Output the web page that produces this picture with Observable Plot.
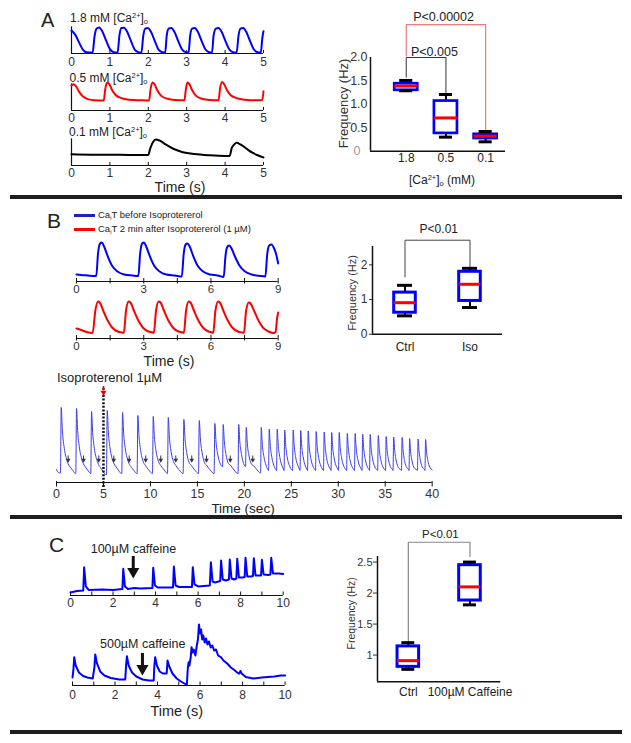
<!DOCTYPE html>
<html><head><meta charset="utf-8">
<script src="https://cdn.jsdelivr.net/npm/d3@7"></script>
<script src="https://cdn.jsdelivr.net/npm/@observablehq/plot@0.6"></script>
<style>
body{margin:0;background:#fff;}
#fig{position:relative;width:631px;height:743px;overflow:hidden;background:#fff;font-family:"Liberation Sans",Arial,sans-serif;color:#222;}
.lbl{position:absolute;white-space:nowrap;line-height:1;}
.lbl sup{font-size:0.62em;vertical-align:0.6em;line-height:0;}
.lbl sub{font-size:0.62em;vertical-align:-0.3em;line-height:0;}
.bar{position:absolute;background:#1e1e1e;}
.sw{position:absolute;height:3px;}
</style></head><body><div id="fig"></div><script>
// ---------------- DATA ----------------
// Panel A traces [time s, relative fluorescence]
const traceA18 = [[0,0.74],[0.1,0.6],[0.2,0.35],[0.3,0.12],[0.4,0.04],[0.55,0.03],
[0.6,0.55],[0.65,0.8],[0.72,0.84],[0.8,0.72],[0.9,0.42],[1.0,0.14],[1.1,0.04],[1.2,0.03],
[1.25,0.6],[1.3,0.82],[1.37,0.83],[1.45,0.7],[1.55,0.4],[1.65,0.12],[1.75,0.04],[1.82,0.02],
[1.87,0.58],[1.92,0.8],[1.99,0.82],[2.07,0.7],[2.17,0.4],[2.27,0.12],[2.37,0.04],[2.44,0.03],
[2.48,0.58],[2.53,0.8],[2.6,0.82],[2.68,0.7],[2.78,0.4],[2.88,0.13],[2.98,0.04],[3.05,0.03],
[3.09,0.58],[3.14,0.8],[3.21,0.82],[3.29,0.7],[3.39,0.4],[3.49,0.13],[3.59,0.04],[3.66,0.03],
[3.7,0.58],[3.76,0.8],[3.83,0.82],[3.91,0.7],[4.01,0.4],[4.11,0.13],[4.21,0.04],[4.3,0.03],
[4.35,0.58],[4.4,0.8],[4.47,0.82],[4.55,0.7],[4.65,0.4],[4.75,0.13],[4.85,0.04],[4.93,0.03],
[4.97,0.5],[5.0,0.72]];
const traceA05 = [[0,0.8],[0.05,0.85],[0.12,0.78],[0.2,0.6],[0.3,0.45],[0.45,0.36],[0.6,0.33],[0.84,0.32],
[0.88,0.7],[0.93,0.9],[0.98,0.86],[1.05,0.68],[1.15,0.5],[1.3,0.4],[1.5,0.35],[1.8,0.33],[2.02,0.32],
[2.06,0.7],[2.11,0.9],[2.16,0.85],[2.23,0.66],[2.33,0.48],[2.5,0.38],[2.7,0.34],[2.94,0.33],
[2.98,0.7],[3.02,0.9],[3.07,0.85],[3.14,0.66],[3.24,0.48],[3.4,0.38],[3.6,0.34],[3.83,0.33],
[3.87,0.72],[3.92,0.92],[3.97,0.86],[4.04,0.68],[4.14,0.5],[4.3,0.4],[4.5,0.35],[4.8,0.33],[4.97,0.34],[5.0,0.62]];
const traceA01 = [[0,0.36],[0.5,0.35],[1.0,0.35],[1.5,0.34],[2.0,0.34],[2.05,0.55],[2.12,0.75],[2.2,0.84],[2.3,0.8],[2.45,0.68],[2.65,0.54],[2.9,0.43],[3.2,0.37],[3.6,0.33],[4.0,0.31],[4.12,0.31],
[4.17,0.55],[4.24,0.68],[4.3,0.73],[4.4,0.68],[4.55,0.55],[4.7,0.42],[4.85,0.33],[5.0,0.26]];
const ticksA = [0,1,2,3,4,5];

// Panel A box plot (Frequency, Hz)
const boxA_cats = ["1.8","0.5","0.1"];
const boxA_min = [1.29,0.30,0.20];
const boxA_q1  = [1.30,0.38,0.27];
const boxA_med = [1.39,0.71,0.32];
const boxA_q3  = [1.44,1.07,0.36];
const boxA_max = [1.51,1.21,0.42];
const boxA_yticks = [0.5,1.0,1.5,2.0];

// Panel B traces
const traceBbefore = [[0,0.7],[0.2,0.65],[0.5,0.6],[0.8,0.55],
[0.88,0.55],[0.96,2.8],[1.05,3.8],[1.13,3.9],[1.23,3.5],[1.38,2.6],[1.58,1.6],[1.83,1.0],[2.13,0.7],[2.5,0.6],[2.76,0.55],
[2.84,2.8],[2.93,3.8],[3.01,3.9],[3.11,3.5],[3.26,2.6],[3.46,1.6],[3.71,1.0],[4.01,0.7],[4.4,0.6],[4.7,0.5],
[4.78,2.7],[4.87,3.7],[4.95,3.8],[5.05,3.5],[5.2,2.6],[5.4,1.6],[5.65,1.0],[5.95,0.7],[6.3,0.6],[6.57,0.45],
[6.65,2.6],[6.74,3.5],[6.82,3.6],[6.92,3.3],[7.07,2.5],[7.27,1.6],[7.52,1.0],[7.82,0.7],[8.2,0.55],[8.43,0.5],
[8.51,2.7],[8.6,3.6],[8.7,3.7],[8.8,3.4],[8.9,2.8],[9.0,1.8]];
const traceBafter = [[0,1.0],[0.2,0.85],[0.45,0.65],[0.72,0.55],
[0.84,2.8],[0.96,3.7],[1.04,3.6],[1.19,2.8],[1.39,1.8],[1.59,1.1],[1.84,0.7],[2.04,0.6],[2.11,0.55],
[2.21,2.8],[2.33,3.7],[2.41,3.6],[2.56,2.8],[2.76,1.8],[2.96,1.1],[3.21,0.7],[3.4,0.6],[3.45,0.55],
[3.55,2.8],[3.67,3.7],[3.75,3.6],[3.9,2.8],[4.1,1.8],[4.3,1.1],[4.55,0.7],[4.74,0.6],[4.79,0.55],
[4.89,2.8],[5.01,3.7],[5.09,3.6],[5.24,2.8],[5.44,1.8],[5.64,1.1],[5.89,0.7],[6.05,0.6],[6.1,0.55],
[6.2,2.8],[6.32,3.7],[6.4,3.6],[6.55,2.8],[6.75,1.8],[6.95,1.1],[7.2,0.7],[7.4,0.6],[7.47,0.55],
[7.57,2.8],[7.69,3.6],[7.77,3.5],[7.92,2.8],[8.12,1.8],[8.32,1.1],[8.57,0.7],[8.8,0.55],[8.88,0.6],
[8.95,2.0],[9.0,2.6]];
const ticksB = [0,1.5,3,4.5,6,7.5,9];
const ticksBlab = [0,3,6,9];

// Panel B box plot
const boxB_cats = ["Ctrl","Iso"];
const boxB_min = [0.53,0.77];
const boxB_q1  = [0.62,0.96];
const boxB_med = [0.91,1.44];
const boxB_q3  = [1.20,1.80];
const boxB_max = [1.41,1.90];
const boxB_yticks = [0,1,2];

// Panel B long recording (Isoproterenol at 5 s)
const traceLong = [[0,1.3],[0.2,1.0],[0.35,0.95],
[0.42,0.95],[0.5,7.5],[0.62,5.25],[0.8,3.6],[1.05,2.4],[1.3,1.75],[1.45,1.55],[1.75,1.2],[2.0,0.9],
[2.05,0.9],[2.13,7.4],[2.25,5.2],[2.43,3.55],[2.68,2.35],[2.93,1.75],[3.08,1.55],[3.38,1.15],[3.63,0.9],
[3.65,0.88],[3.73,7.1],[3.85,5.0],[4.03,3.4],[4.28,2.3],[4.53,1.7],[4.68,1.5],[4.98,1.05],[5.25,0.8],
[5.32,0.8],[5.4,7.2],[5.52,5.05],[5.7,3.45],[5.95,2.3],[6.2,1.75],[6.35,1.55],[6.65,1.15],[6.9,0.9],
[6.95,0.9],[7.03,7.0],[7.15,4.9],[7.33,3.35],[7.58,2.25],[7.83,1.7],[7.98,1.5],[8.28,1.15],[8.53,0.9],
[8.58,0.9],[8.66,6.7],[8.78,4.7],[8.96,3.2],[9.21,2.15],[9.46,1.7],[9.61,1.5],[9.91,1.15],[10.18,0.9],
[10.22,0.9],[10.3,6.6],[10.42,4.6],[10.6,3.15],[10.85,2.1],[11.1,1.7],[11.25,1.5],[11.55,1.15],[11.8,0.9],
[11.82,0.9],[11.9,6.5],[12.02,4.55],[12.2,3.1],[12.45,2.1],[12.7,1.7],[12.85,1.5],[13.15,1.15],[13.45,0.9],
[13.48,0.9],[13.56,6.3],[13.68,4.4],[13.86,3.0],[14.11,2.0],[14.36,1.7],[14.51,1.5],[14.81,1.15],[15.1,0.9],
[15.12,0.9],[15.2,6.2],[15.32,4.35],[15.5,3.0],[15.75,2.0],[16.0,1.7],[16.15,1.5],[16.45,1.15],[16.75,0.9],
[16.78,0.9],[16.86,5.9],[16.98,4.1],[17.16,2.85],[17.4,1.95],[17.62,1.6],
[17.68,1.55],[17.75,5.8],[17.87,4.05],[18.05,2.8],[18.3,1.9],[18.55,1.7],[18.7,1.5],[19.0,1.15],[19.25,0.9],
[19.33,0.9],[19.4,5.8],[19.52,4.05],[19.7,2.8],[19.92,1.9],[20.1,1.6],
[20.13,1.55],[20.2,5.5],[20.32,3.85],[20.5,2.65],[20.75,1.85],[21.0,1.65],[21.15,1.5],[21.45,1.15],[21.7,0.95],
[21.73,0.95],[21.8,5.5],[21.9,3.95],[22.08,2.6],[22.3,1.75],[22.5,1.3],
[22.58,1.2],[22.65,5.35],[22.75,3.85],[22.93,2.5],[23.15,1.7],[23.35,1.3],
[23.43,1.2],[23.5,5.35],[23.6,3.85],[23.78,2.5],[24.0,1.7],[24.18,1.3],
[24.23,1.2],[24.3,5.25],[24.4,3.8],[24.58,2.45],[24.8,1.7],[25.05,1.25],
[25.13,1.2],[25.2,5.25],[25.3,3.8],[25.48,2.45],[25.7,1.7],[25.88,1.3],
[25.93,1.2],[26.0,5.2],[26.1,3.75],[26.28,2.45],[26.5,1.65],[26.68,1.3],
[26.73,1.2],[26.8,5.15],[26.9,3.7],[27.08,2.4],[27.3,1.65],[27.53,1.25],
[27.58,1.2],[27.65,5.1],[27.75,3.7],[27.93,2.4],[28.15,1.65],[28.38,1.25],
[28.43,1.2],[28.5,5.05],[28.6,3.65],[28.78,2.35],[29.0,1.6],[29.18,1.3],
[29.23,1.2],[29.3,5.0],[29.4,3.6],[29.58,2.35],[29.8,1.6],[29.98,1.3],
[30.03,1.2],[30.1,5.0],[30.2,3.6],[30.38,2.35],[30.6,1.6],[30.84,1.25],
[30.89,1.2],[30.96,4.9],[31.06,3.55],[31.24,2.3],[31.46,1.6],[31.68,1.25],
[31.73,1.2],[31.8,4.9],[31.9,3.55],[32.08,2.3],[32.3,1.6],[32.48,1.3],
[32.53,1.2],[32.6,4.85],[32.7,3.5],[32.88,2.3],[33.1,1.55],[33.28,1.3],
[33.33,1.2],[33.4,4.8],[33.5,3.45],[33.68,2.25],[33.9,1.55],[34.14,1.25],
[34.19,1.2],[34.26,4.7],[34.36,3.4],[34.54,2.2],[34.76,1.55],[34.98,1.25],
[35.03,1.2],[35.1,4.6],[35.2,3.3],[35.38,2.15],[35.6,1.5],[35.78,1.3],
[35.83,1.2],[35.9,4.55],[36.0,3.3],[36.18,2.15],[36.4,1.5],[36.68,1.25],
[36.73,1.2],[36.8,4.5],[36.9,3.25],[37.08,2.1],[37.3,1.5],[37.48,1.3],
[37.53,1.2],[37.6,4.4],[37.7,3.15],[37.88,2.05],[38.1,1.45],[38.38,1.25],
[38.43,1.2],[38.5,4.35],[38.6,3.15],[38.78,2.05],[39.0,1.45],[39.18,1.3],
[39.23,1.2],[39.3,4.3],[39.4,3.1],[39.58,2.0],[39.8,1.45],[40.0,1.25]];
const longArrowT = [1.24,2.88,4.5,6.1,7.74,9.5,11.1,12.7,14.4,15.97,18.5,20.9];
const isoTime = [5];
const ticksLong = [0,5,10,15,20,25,30,35,40];

// Panel C traces
const traceC100 = [[0,0.3],[0.3,0.45],[0.6,0.5],[0.64,2.83],[0.72,0.9],[0.85,0.55],[1.5,0.6],[2.0,0.55],[2.44,0.65],[2.48,2.67],[2.56,0.9],[2.7,0.65],[3.0,0.75],[3.3,0.7],[3.85,0.75],[3.89,2.77],[3.97,1.0],[4.1,0.8],[4.82,0.8],[4.86,2.9],[4.94,1.0],[5.1,0.85],[5.71,0.85],[5.75,2.83],[5.83,1.1],[6.0,0.9],[6.55,1.0],[6.6,3.33],[6.68,1.4],[6.8,1.3],[7.04,1.45],[7.08,3.5],[7.16,1.6],[7.3,1.5],[7.45,1.6],[7.49,3.6],[7.57,1.7],[7.7,1.6],[7.8,1.7],[7.84,3.67],[7.92,1.8],[8.1,1.8],[8.19,1.85],[8.23,3.77],[8.31,1.9],[8.5,1.9],[8.58,1.95],[8.62,3.73],[8.7,2.0],[8.9,2.0],[8.96,2.0],[9.0,3.57],[9.08,2.1],[9.3,2.05],[9.4,2.1],[9.44,3.77],[9.52,2.2],[9.8,2.2],[10,2.15]];
const traceC500 = [[0,0.8],[0.04,1.5],[0.08,2.83],[0.15,2.0],[0.3,1.3],[0.5,0.95],[0.7,0.8],[0.95,0.7],[1.03,1.8],[1.07,3.1],[1.15,2.2],[1.3,1.4],[1.5,1.0],[1.8,0.75],[2.2,0.6],[2.48,0.6],[2.52,2.0],[2.56,2.93],[2.64,2.0],[2.8,1.3],[3.0,0.9],[3.3,0.6],[3.6,0.5],[3.82,0.5],[3.85,2.0],[3.89,2.83],[3.97,2.0],[4.1,1.4],[4.25,1.2],[4.43,1.2],[4.47,2.5],[4.55,1.9],[4.7,1.2],[4.9,0.7],[5.1,0.4],[5.3,0.15],[5.38,0.1],[5.42,1.6],[5.46,2.33],[5.5,2.0],[5.56,2.8],[5.6,3.83],[5.65,3.3],[5.7,3.6],[5.78,3.0],[5.84,3.9],[5.9,4.6],[5.95,6.1],[6.0,5.2],[6.05,5.6],[6.1,4.6],[6.15,5.0],[6.22,4.3],[6.28,4.7],[6.35,4.1],[6.42,4.4],[6.5,3.8],[6.58,4.0],[6.66,3.5],[6.75,3.6],[6.85,3.0],[6.98,2.83],[7.1,2.5],[7.29,2.17],[7.45,1.8],[7.6,1.57],[7.75,1.3],[7.84,1.17],[7.9,1.45],[7.96,1.2],[8.15,0.85],[8.5,0.7],[8.9,0.8],[9.2,0.85],[9.5,0.9],[9.8,1.0],[10,1.0]];
const ticksC = [0,1,2,3,4,5,6,7,8,9,10];
const ticksClab = [0,2,4,6,8,10];
const caffArrow100 = [2.95];
const caffArrow500 = [3.29];

// Panel C box plot
const boxC_cats = ["Ctrl","100µM Caffeine"];
const boxC_min = [0.77,1.81];
const boxC_q1  = [0.81,1.88];
const boxC_med = [0.91,2.10];
const boxC_q3  = [1.14,2.45];
const boxC_max = [1.20,2.50];
const boxC_yticks = [1,1.5,2,2.5];

// ---------------- DRAWING ----------------
const fig = document.getElementById("fig");
const FONT = '"Liberation Sans", Arial, sans-serif';
const BLUE = "#0000ff", RED = "#ff0000";

function place(svg, left, top) {
  svg.style.position = "absolute";
  svg.style.left = left + "px";
  svg.style.top = top + "px";
  svg.style.overflow = "visible";
  fig.appendChild(svg);
}
function label(html, o) {
  const d = document.createElement("div");
  d.className = "lbl";
  d.innerHTML = html;
  d.style.fontSize = o.fs + "px";
  d.style.top = (o.cy - 0.49 * o.fs) + "px";
  if (o.cx !== undefined) { d.style.left = o.cx + "px"; d.style.transform = "translateX(-50%)"; }
  else d.style.left = o.left + "px";
  if (o.color) d.style.color = o.color;
  fig.appendChild(d);
}
function bar(top, left, width, h) {
  const d = document.createElement("div");
  d.className = "bar";
  Object.assign(d.style, {top: top + "px", left: left + "px", width: width + "px", height: h + "px"});
  fig.appendChild(d);
}
function swatch(left, cy, w, color) {
  const d = document.createElement("div");
  d.className = "sw";
  Object.assign(d.style, {left: left + "px", top: (cy - 1.5) + "px", width: w + "px", background: color});
  fig.appendChild(d);
}

function tracePlot(o) {
  const mL = 10, mR = 14;
  const fw = o.x1px - o.x0px;
  const fh = o.yMax * o.unitPx;
  const marks = [
    Plot.ruleY([0], {stroke: "#111", strokeWidth: 1.2}),
    Plot.ruleX(o.ticks, {x: d => d, y1: o.tick[0], y2: o.tick[1], stroke: "#111", strokeWidth: 1}),
    Plot.axisX(o.labTicks, {tickSize: 0, tickPadding: o.pad, fontSize: o.fs, fill: "#333", label: null}),
  ];
  if (o.leftLine) marks.push(Plot.ruleX([o.xDomain[0]], {y1: 0, y2: o.leftLine, stroke: "#111", strokeWidth: 1.2}));
  marks.push(Plot.line(o.data, {stroke: o.stroke, strokeWidth: o.sw, curve: o.curve || "monotone-x", strokeLinejoin: "round"}));
  if (o.extra) marks.push(...o.extra);
  const svg = Plot.plot({
    width: mL + fw + mR, height: o.mt + fh + o.mb,
    marginLeft: mL, marginRight: mR, marginTop: o.mt, marginBottom: o.mb,
    x: {domain: o.xDomain, axis: null},
    y: {domain: [0, o.yMax], axis: null},
    style: {background: "transparent", fontFamily: FONT, overflow: "visible", color: "#333"},
    marks
  });
  place(svg, o.x0px - mL, o.axisY - fh - o.mt);
}

function boxPlot(o) {
  const mL = 52, mR = 10;
  const n = o.cats.length;
  const idx = d3.range(n);
  const fw = o.x1px - o.x0px;
  const fh = (o.yDomain[1] - o.yDomain[0]) * o.unitPx;
  const marks = [
    Plot.ruleY([o.yDomain[0]], {stroke: "#111", strokeWidth: 1.5}),
    Plot.ruleX([o.xDomain[0]], {y1: o.yDomain[0], y2: o.yTop, stroke: "#111", strokeWidth: 1.5}),
    Plot.axisY(o.yTicks, {tickSize: o.ytickSize, tickPadding: o.ypad, fontSize: o.yfs, tickFormat: o.yFmt, fill: "#333", label: null}),
    Plot.axisX(idx.map(i => i + 1), {tickSize: 0, tickPadding: o.xpad, fontSize: o.xfs, tickFormat: d => o.cats[d - 1], fill: "#222", label: null}),
    ...(o.extraAxis || []),
    ...o.brackets.map(b => Plot.line(b.pts, {stroke: b.color, strokeWidth: b.sw})),
    Plot.ruleX(idx, {x: i => i + 1, y1: i => o.mins[i], y2: i => o.maxs[i], stroke: "#000", strokeWidth: 2}),
    Plot.rect(idx, {x1: i => i + 1 - o.hw, x2: i => i + 1 + o.hw, y1: i => o.q1s[i], y2: i => o.q3s[i], fill: "white", stroke: BLUE, strokeWidth: o.bsw}),
    Plot.ruleY(idx, {x1: i => i + 1 - o.hw, x2: i => i + 1 + o.hw, y: i => o.meds[i], stroke: RED, strokeWidth: 3}),
    Plot.ruleY(idx, {x1: i => i + 1 - o.cw, x2: i => i + 1 + o.cw, y: i => o.maxs[i], stroke: "#000", strokeWidth: 3}),
    Plot.ruleY(idx, {x1: i => i + 1 - o.cw, x2: i => i + 1 + o.cw, y: i => o.mins[i], stroke: "#000", strokeWidth: 3}),
    Plot.text(o.texts, {x: d => d.x, y: d => d.y, text: d => d.t, fontSize: d => d.fs, fill: "#222"}),
    Plot.text([o.ylabel], {x: () => o.xDomain[0], y: () => o.ylabY, text: d => d, rotate: -90, dx: o.ylabDx, fontSize: o.ylabFs, fill: "#333"})
  ];
  const svg = Plot.plot({
    width: mL + fw + mR, height: o.mt + fh + o.mb,
    marginLeft: mL, marginRight: mR, marginTop: o.mt, marginBottom: o.mb,
    x: {domain: o.xDomain, axis: null},
    y: {domain: o.yDomain, axis: null},
    style: {background: "transparent", fontFamily: FONT, overflow: "visible", color: "#333"},
    marks
  });
  place(svg, o.x0px - mL, o.y0px - fh - o.mt);
}

// separators
bar(195, 10, 612, 4);
bar(515, 10, 612, 4);
bar(730, 10, 612, 4);

// ---- Panel A ----
label("A", {left: 41, cy: 20, fs: 20});
const aCommon = {xDomain: [0, 5], x0px: 71, x1px: 263, unitPx: 31, yMax: 1, mt: 10, mb: 20,
  ticks: ticksA, labTicks: ticksA, tick: [0, 0.1], fs: 12, sw: 2, leftLine: 0.86};
tracePlot({...aCommon, data: traceA18, stroke: BLUE, axisY: 53, pad: 3.7});
tracePlot({...aCommon, data: traceA05, stroke: RED, axisY: 110, pad: 2.7});
tracePlot({...aCommon, data: traceA01, stroke: "#000", axisY: 165, pad: 2.6});
label("1.8 mM [Ca<sup>2+</sup>]<sub>o</sub>", {left: 70, cy: 18, fs: 12});
label("0.5 mM [Ca<sup>2+</sup>]<sub>o</sub>", {left: 69.5, cy: 78, fs: 12});
label("0.1 mM [Ca<sup>2+</sup>]<sub>o</sub>", {left: 69, cy: 132, fs: 12});
label("Time (s)", {cx: 180, cy: 186.5, fs: 14});

boxPlot({
  cats: boxA_cats, mins: boxA_min, q1s: boxA_q1, meds: boxA_med, q3s: boxA_q3, maxs: boxA_max,
  xDomain: [0.1, 3.5], x0px: 370, x1px: 505, yDomain: [0, 2], yTop: 2, unitPx: 46.85, y0px: 151,
  mt: 47, mb: 40, hw: 0.29, cw: 0.165, bsw: 2.7,
  yTicks: boxA_yticks, yFmt: d => d.toFixed(1), ytickSize: 0, ypad: 3, yfs: 12.5,
  extraAxis: [Plot.axisY([0], {tickSize: 0, tickPadding: 3, dx: -7, fontSize: 12.5, fill: "#999", label: null})],
  xpad: 1.8, xfs: 12,
  brackets: [
    {pts: [[1, 1.58], [1, 2.0], [2, 2.0], [2, 1.21]], color: "#333", sw: 1},
    {pts: [[1, 2.03], [1, 2.70], [3, 2.70], [3, 0.43]], color: "#ee7b7b", sw: 1.2}
  ],
  texts: [{x: 1.94, y: 2.857, t: "P<0.00002", fs: 12.5}, {x: 1.71, y: 2.11, t: "P<0.005", fs: 12.5}],
  ylabel: "Frequency (Hz)", ylabY: 1.02, ylabDx: -27, ylabFs: 13
});
label("[Ca<sup>2+</sup>]<sub>o</sub> (mM)", {cx: 442, cy: 180, fs: 12});

// ---- Panel B ----
label("B", {left: 47, cy: 220, fs: 21});
swatch(74, 215, 21, "#2020c0");
swatch(74, 229, 21, RED);
label("Ca<sub>i</sub>T before Isoprotererol", {left: 98, cy: 215, fs: 9.5});
label("Ca<sub>i</sub>T 2 min after Isoprotererol (1 µM)", {left: 98, cy: 229, fs: 9.5});
const bCommon = {xDomain: [0, 9], x0px: 76, x1px: 277.7, unitPx: 10, yMax: 4.5, mt: 6, mb: 18,
  ticks: ticksB, labTicks: ticksBlab, tick: [-0.25, 0.3], fs: 11.5, sw: 2};
tracePlot({...bCommon, data: traceBbefore, stroke: BLUE, axisY: 281, pad: 2.9});
tracePlot({...bCommon, data: traceBafter, stroke: RED, axisY: 338.3, pad: 3.6});
label("Time (s)", {cx: 169, cy: 361, fs: 14});

boxPlot({
  cats: boxB_cats, mins: boxB_min, q1s: boxB_q1, meds: boxB_med, q3s: boxB_q3, maxs: boxB_max,
  xDomain: [0.5, 2.5], x0px: 371.5, x1px: 501.5, yDomain: [0, 2.5], yTop: 2.53, unitPx: 34.7, y0px: 333.3,
  mt: 32, mb: 25, hw: 0.166, cw: 0.115, bsw: 3,
  yTicks: boxB_yticks, yFmt: d => String(d), ytickSize: 3, ypad: 2, yfs: 12,
  xpad: 8.4, xfs: 12,
  brackets: [{pts: [[1, 1.65], [1, 2.71], [2, 2.71], [2, 1.95]], color: "#444", sw: 1}],
  texts: [{x: 1.52, y: 3.03, t: "P<0.01", fs: 12}],
  ylabel: "Frequency (Hz)", ylabY: 1.19, ylabDx: -19.7, ylabFs: 11
});

label("Isoproterenol 1µM", {left: 57, cy: 377, fs: 13});
tracePlot({
  data: traceLong, stroke: "#3c3ce6", sw: 1, xDomain: [0, 40], x0px: 56, x1px: 431.7, unitPx: 10, yMax: 10,
  mt: 10, mb: 22, axisY: 481.7, ticks: ticksLong, labTicks: ticksLong, tick: [-0.45, 0.1], fs: 12.5, pad: 7,
  extra: [
    Plot.ruleX(longArrowT, {x: d => d, y1: 2.65, y2: 2.3, stroke: "#333", strokeWidth: 1}),
    Plot.dot(longArrowT, {x: d => d, y: () => 2.25, symbol: "triangle", rotate: 180, r: 1.7, fill: "#333", stroke: "none"}),
    Plot.ruleX(isoTime, {x: d => d, y1: -0.5, y2: 9.5, stroke: "#111", strokeWidth: 2.5, strokeDasharray: "2,1.6"}),
    Plot.ruleX(isoTime, {x: d => d, y1: 9.6, y2: 9.15, stroke: RED, strokeWidth: 1.5}),
    Plot.dot(isoTime, {x: d => d, y: () => 9.0, symbol: "triangle", rotate: 180, r: 2.3, fill: RED, stroke: "none"})
  ]
});
label("Time (sec)", {cx: 243, cy: 508.5, fs: 13.5});

// ---- Panel C ----
label("C", {left: 49, cy: 544.5, fs: 21});
label("100µM caffeine", {left: 90.7, cy: 549, fs: 12.5});
label("500µM caffeine", {left: 100, cy: 644, fs: 12.5});
const cCommon = {xDomain: [0, 10], unitPx: 10, mt: 6, mb: 18, ticks: ticksC, labTicks: ticksClab,
  tick: [0, 0.35], fs: 12, sw: 2, curve: "linear"};
tracePlot({...cCommon, data: traceC100, stroke: BLUE, x0px: 70, x1px: 282.7, yMax: 4.2, axisY: 595, pad: 3.4,
  extra: [
    Plot.ruleX(caffArrow100, {x: d => d, y1: 3.9, y2: 2.6, stroke: "#111", strokeWidth: 3}),
    Plot.dot(caffArrow100, {x: d => d, y: () => 2.4, symbol: "triangle", rotate: 180, r: 4.5, fill: "#111", stroke: "none"})
  ]});
tracePlot({...cCommon, data: traceC500, stroke: BLUE, x0px: 71.7, x1px: 284.3, yMax: 6.5, axisY: 685, pad: 5,
  extra: [
    Plot.ruleX(caffArrow500, {x: d => d, y1: 3.2, y2: 1.9, stroke: "#111", strokeWidth: 3}),
    Plot.dot(caffArrow500, {x: d => d, y: () => 1.7, symbol: "triangle", rotate: 180, r: 4.5, fill: "#111", stroke: "none"})
  ]});
label("Time (s)", {cx: 176.7, cy: 711, fs: 14.5});

boxPlot({
  cats: boxC_cats, mins: boxC_min, q1s: boxC_q1, meds: boxC_med, q3s: boxC_q3, maxs: boxC_max,
  xDomain: [0.5, 2.5], x0px: 376.7, x1px: 500, yDomain: [0.57, 2.59], yTop: 2.59, unitPx: 62, y0px: 681.7,
  mt: 36, mb: 25, hw: 0.175, cw: 0.105, bsw: 3,
  yTicks: boxC_yticks, yFmt: d => String(d), ytickSize: 4, ypad: 1, yfs: 11,
  xpad: 5.6, xfs: 12,
  brackets: [{pts: [[1, 1.22], [1, 2.82], [2, 2.82], [2, 2.59]], color: "#888", sw: 1.2}],
  texts: [{x: 1.52, y: 2.95, t: "P<0.01", fs: 11.5}],
  ylabel: "Frequency (Hz)", ylabY: 1.673, ylabDx: -25.6, ylabFs: 10.5
});
</script></body></html>
